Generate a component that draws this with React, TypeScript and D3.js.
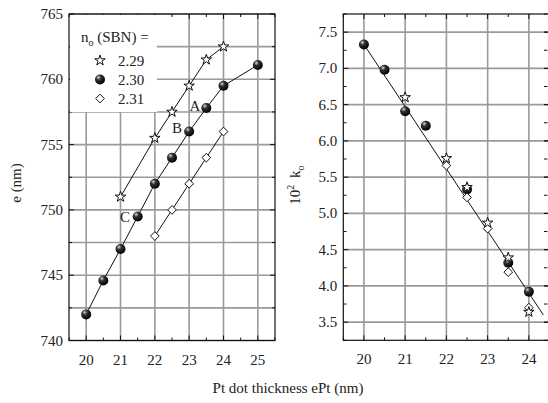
import React, { useEffect, useRef } from 'react';
import * as d3 from 'd3';

// left panel: emission wavelength vs Pt thickness
const starX = [21, 22, 22.5, 23, 23.5, 24];
const starE = [751, 755.5, 757.5, 759.5, 761.5, 762.5];
const ballX = [20, 20.5, 21, 21.5, 22, 22.5, 23, 23.5, 24, 25];
const ballE = [742, 744.6, 747, 749.5, 752, 754, 756, 757.8, 759.5, 761.1];
const diamX = [22, 22.5, 23, 23.5, 24];
const diamE = [748, 750, 752, 754, 756];

// right panel: 10^2 k_o
const kBallX = [20, 20.5, 21, 21.5, 22.5, 23.5, 24];
const kBall = [7.33, 6.98, 6.41, 6.21, 5.33, 4.32, 3.92];
const kStarX = [21, 22, 22.5, 23, 23.5, 24];
const kStar = [6.6, 5.76, 5.36, 4.87, 4.39, 3.64];
const kDiamX = [22, 22.5, 23, 23.5, 24];
const kDiam = [5.66, 5.22, 4.79, 4.19, 3.7];
const fitX = [20, 24.35];
const fitY = [7.33, 3.6];

const legendLabels = ['2.29', '2.30', '2.31'];
const pointLabels = [
  { t: 'A', x: 195, y: 111 },
  { t: 'B', x: 177, y: 133 },
  { t: 'C', x: 125, y: 222 },
];

const W = 548;
const H = 403;
const FONT = '"Liberation Serif", "Times New Roman", serif';
const GRID = '#9a9a9a';

const App = () => {
  const svgRef = useRef<SVGSVGElement>(null);

  useEffect(() => {
    const svg = d3.select(svgRef.current);
    svg.selectAll('*').remove();

    // ball gradient
    const defs = svg.append('defs');
    const grad = defs.append('radialGradient')
      .attr('id', 'ball').attr('cx', '0.35').attr('cy', '0.3').attr('r', '0.7');
    grad.append('stop').attr('offset', '0').attr('stop-color', '#d8d8d8');
    grad.append('stop').attr('offset', '0.35').attr('stop-color', '#333');
    grad.append('stop').attr('offset', '1').attr('stop-color', '#000');

    const star = d3.symbol().type(d3.symbolStar).size(34);
    const diamond = d3.symbol().type(d3.symbolDiamond2).size(48);

    const drawBalls = (g, xs, ys, x, y) => {
      g.selectAll(null).data(xs).enter().append('circle')
        .attr('cx', d => x(d)).attr('cy', (d, i) => y(ys[i])).attr('r', 5)
        .attr('fill', 'url(#ball)');
    };
    const drawSym = (g, gen, xs, ys, x, y) => {
      g.selectAll(null).data(xs).enter().append('path')
        .attr('d', gen())
        .attr('transform', (d, i) => `translate(${x(d)},${y(ys[i])})`)
        .attr('fill', 'white').attr('stroke', '#111').attr('stroke-width', 1);
    };

    // frame + grid + ticks for one panel
    const panel = (x, y, xMajor, xMinor, yMajor, yMinor, yFmt) => {
      const [x0, x1] = x.range();
      const [y0, y1] = y.range();
      const g = svg.append('g');
      g.selectAll(null).data(xMajor).enter().append('line')
        .attr('x1', d => x(d)).attr('x2', d => x(d)).attr('y1', y1).attr('y2', y0)
        .attr('stroke', GRID).attr('stroke-width', 1.6);
      g.selectAll(null).data(yMinor).enter().append('line')
        .attr('y1', d => y(d)).attr('y2', d => y(d)).attr('x1', x0).attr('x2', x1)
        .attr('stroke', GRID).attr('stroke-width', 1.6);
      // ticks (inward)
      const ticks = [];
      xMinor.forEach(v => {
        const len = xMajor.includes(v) ? 5 : 3;
        ticks.push([x(v), y0, x(v), y0 - len], [x(v), y1, x(v), y1 + len]);
      });
      yMinor.forEach(v => {
        const len = yMajor.includes(v) ? 5 : 3;
        ticks.push([x0, y(v), x0 + len, y(v)], [x1, y(v), x1 - len, y(v)]);
      });
      g.selectAll(null).data(ticks).enter().append('line')
        .attr('x1', d => d[0]).attr('y1', d => d[1]).attr('x2', d => d[2]).attr('y2', d => d[3])
        .attr('stroke', '#111').attr('stroke-width', 1);
      g.append('rect').attr('x', x0).attr('y', y1).attr('width', x1 - x0).attr('height', y0 - y1)
        .attr('fill', 'none').attr('stroke', '#111').attr('stroke-width', 1.2);
      // tick labels
      g.selectAll(null).data(xMajor).enter().append('text')
        .attr('x', d => x(d)).attr('y', y0 + 24).attr('text-anchor', 'middle')
        .attr('font-family', FONT).attr('font-size', 15).attr('fill', '#222')
        .text(d => d);
      g.selectAll(null).data(yMajor).enter().append('text')
        .attr('x', x0 - 6).attr('y', d => y(d) + 5).attr('text-anchor', 'end')
        .attr('font-family', FONT).attr('font-size', 15).attr('fill', '#222')
        .text(d => yFmt(d));
      return g;
    };

    // ---- left panel
    const xL = d3.scaleLinear().domain([19.5, 25.5]).range([69, 275]);
    const yL = d3.scaleLinear().domain([740, 765]).range([340.5, 14]);
    panel(xL, yL, d3.range(20, 26), d3.range(19.5, 25.51, 0.5),
      d3.range(740, 766, 5), d3.range(740, 765.1, 2.5), d => d);

    const gl = svg.append('g');
    const line = d3.line().x(d => d[0]).y(d => d[1]);
    [[starX, starE], [ballX, ballE], [diamX, diamE]].forEach(([xs, ys]) => {
      gl.append('path')
        .attr('d', line(xs.map((v, i) => [xL(v), yL(ys[i])])))
        .attr('fill', 'none').attr('stroke', '#111').attr('stroke-width', 1);
    });

    // legend box (white, covers grid)
    gl.append('rect').attr('x', 70).attr('y', 15).attr('width', 87).attr('height', 97).attr('fill', 'white');
    const lt = gl.append('text').attr('x', 81).attr('y', 42)
      .attr('font-family', FONT).attr('font-size', 15).attr('fill', '#222');
    lt.append('tspan').text('n');
    lt.append('tspan').attr('dy', 4).attr('font-size', 10).text('o');
    lt.append('tspan').attr('dy', -4).text(' (SBN) =');
    const legY = [60.5, 79.5, 98.5];
    gl.append('path').attr('d', star()).attr('transform', `translate(100,${legY[0]})`)
      .attr('fill', 'white').attr('stroke', '#111');
    gl.append('circle').attr('cx', 100).attr('cy', legY[1]).attr('r', 5).attr('fill', 'url(#ball)');
    gl.append('path').attr('d', diamond()).attr('transform', `translate(100,${legY[2]})`)
      .attr('fill', 'white').attr('stroke', '#111');
    gl.selectAll(null).data(legendLabels).enter().append('text')
      .attr('x', 118).attr('y', (d, i) => legY[i] + 5)
      .attr('font-family', FONT).attr('font-size', 15).attr('fill', '#222').text(d => d);

    drawSym(gl, star, starX, starE, xL, yL);
    drawBalls(gl, ballX, ballE, xL, yL);
    drawSym(gl, diamond, diamX, diamE, xL, yL);

    gl.selectAll(null).data(pointLabels).enter().append('text')
      .attr('x', d => d.x).attr('y', d => d.y).attr('text-anchor', 'middle')
      .attr('font-family', FONT).attr('font-size', 15).attr('fill', '#222').text(d => d.t);

    gl.append('text').attr('transform', 'translate(21,183) rotate(-90)')
      .attr('text-anchor', 'middle').attr('font-family', FONT).attr('font-size', 15)
      .attr('fill', '#222').text('e (nm)');

    // ---- right panel
    const xR = d3.scaleLinear().domain([19.5, 24.5]).range([343.3, 549.5]);
    const yR = d3.scaleLinear().domain([3.25, 7.75]).range([340.3, 14]);
    panel(xR, yR, d3.range(20, 25), d3.range(19.5, 24.51, 0.5),
      d3.range(3.5, 7.51, 0.5), d3.range(3.5, 7.51, 0.5), d => d.toFixed(1));
    // minor y ticks at quarter values
    const gr = svg.append('g');
    gr.selectAll(null).data(d3.range(3.25, 7.76, 0.5)).enter().append('line')
      .attr('x1', 343.3).attr('x2', 346.5).attr('y1', d => yR(d)).attr('y2', d => yR(d))
      .attr('stroke', '#111');
    gr.selectAll(null).data(d3.range(3.25, 7.76, 0.25)).enter().append('line')
      .attr('x1', 547.5).attr('x2', 544).attr('y1', d => yR(d)).attr('y2', d => yR(d))
      .attr('stroke', '#111');

    gr.append('path')
      .attr('d', line(fitX.map((v, i) => [xR(v), yR(fitY[i])])))
      .attr('fill', 'none').attr('stroke', '#111').attr('stroke-width', 1);
    drawBalls(gr, kBallX, kBall, xR, yR);
    drawSym(gr, diamond, kDiamX, kDiam, xR, yR);
    drawSym(gr, star, kStarX, kStar, xR, yR);

    const kt = gr.append('text').attr('transform', 'translate(300,185) rotate(-90)')
      .attr('text-anchor', 'middle').attr('font-family', FONT).attr('font-size', 15).attr('fill', '#222');
    kt.append('tspan').text('10');
    kt.append('tspan').attr('dy', -6).attr('font-size', 10).text('2');
    kt.append('tspan').attr('dy', 6).text('\u2009 k');
    kt.append('tspan').attr('dy', 4).attr('font-size', 10).text('o');

    svg.append('text').attr('x', 288).attr('y', 393).attr('text-anchor', 'middle')
      .attr('font-family', FONT).attr('font-size', 15).attr('fill', '#222')
      .text('Pt dot thickness ePt (nm)');
  }, []);

  return (
    <svg ref={svgRef} width={W} height={H}
      style={{ position: 'absolute', left: 0, top: 0, background: 'white' }} />
  );
};

export default App;
